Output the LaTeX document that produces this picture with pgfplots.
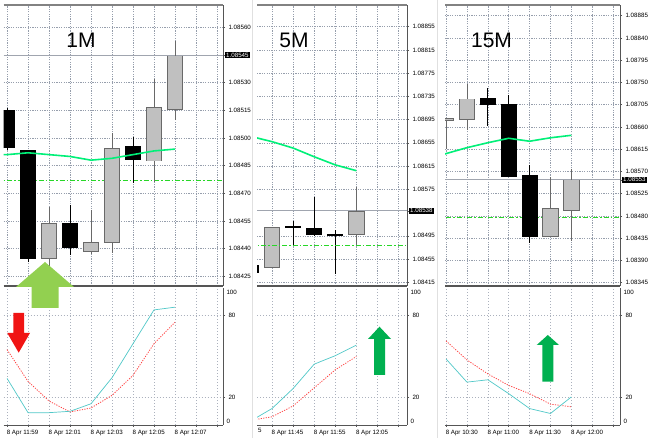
\documentclass[border=0pt]{standalone}
\usepackage{pgfplots}
\pgfplotsset{compat=1.18}
\usepackage{pgfplotstable}
\usepackage{fontspec}
\setmainfont{Liberation Sans}

\definecolor{gridc}{RGB}{150,158,172}
\definecolor{framec}{RGB}{85,85,85}
\definecolor{bullfill}{RGB}{192,192,192}
\definecolor{bulldraw}{RGB}{105,105,105}
\definecolor{maline}{RGB}{0,240,120}
\definecolor{lvl}{RGB}{40,215,40}
\definecolor{stmain}{RGB}{80,200,200}
\definecolor{stsig}{RGB}{255,70,70}
\definecolor{pricel}{RGB}{160,165,175}
\definecolor{topl}{RGB}{130,130,130}
\definecolor{lgreen}{RGB}{146,208,80}
\definecolor{dgreen}{RGB}{0,176,80}
\definecolor{redarrow}{RGB}{240,20,20}

% candles: t = 1 bullish (grey), 0 bearish (black); lw = low, lq = body bottom, uq = body top, uw = high
\pgfplotstableread{
x t lw lq uq uw
0 0 1.08494 1.08496 1.08516 1.08517
1 0 1.08434 1.08435 1.08494 1.08494
2 1 1.08430 1.08435 1.08454 1.08463
3 0 1.08437 1.08441 1.08454 1.08464
4 1 1.08437 1.08440 1.08445 1.08461
5 1 1.08438 1.08444 1.08495 1.08503
6 0 1.08476 1.08489 1.08496 1.08501
7 1 1.08477 1.08488 1.08517 1.08533
8 1 1.08511 1.08516 1.08545 1.08554
}\onem
\pgfplotstableread{
x t lw lq uq uw
-1 0 1.08430 1.08433 1.08446 1.08450
0 1 1.08442 1.08442 1.08510 1.08510
1 0 1.08479 1.08509 1.08512 1.08522
2 0 1.08495 1.08498 1.08508 1.08562
3 0 1.08431 1.08496 1.08499 1.08506
4 1 1.08479 1.08498 1.08538 1.08580
}\fivem
\pgfplotstableread{
x t lw lq uq uw
0 1 1.08615 1.08673 1.08677 1.08678
1 1 1.08655 1.08676 1.08717 1.08749
2 0 1.08662 1.08706 1.08718 1.08740
3 0 1.08561 1.08561 1.08708 1.08726
4 0 1.08425 1.08439 1.08563 1.08583
5 1 1.08437 1.08438 1.08495 1.08559
6 1 1.08430 1.08492 1.08553 1.08576
}\fifteenm

\pgfplotsset{
  mt/.style={scale only axis, anchor=south west, enlargelimits=false,
    axis x line*=bottom, axis y line*=right,
    axis line style={framec,-},
    tick label style={font=\fontsize{6.2}{7}\selectfont, /pgf/number format/assume math mode=true},
    tick style={framec, line width=0.5pt}, major tick length=2pt, tick align=outside,
    grid=major, major grid style={gridc, dash pattern=on 1.2pt off 1.2pt, line width=0.5pt},
    clip=true},
  upper/.style={mt, height=281pt, x axis line style={line width=2pt},
    xmajorticks=false, scaled y ticks=false,
    yticklabel style={/pgf/number format/fixed, /pgf/number format/fixed zerofill, /pgf/number format/precision=5},
    extra y tick style={yticklabel style={fill=black, text=white, inner xsep=1pt, inner ysep=0.8pt},
      major grid style={pricel, solid, line width=0.8pt}}},
  lower/.style={mt, height=137pt, ymin=0, ymax=100, ytick={20,80},
    major grid style={gridc!80, dash pattern=on 1.2pt off 1.8pt, line width=0.5pt},
    extra y ticks={3,97}, extra y tick labels={0,100},
    extra y tick style={grid=none, major tick length=0pt},
    xticklabel style={anchor=north west, inner xsep=0pt, xshift=-0.5pt}},
  ebar/.style 2 args={draw=none, mark=none, forget plot,
    error bars/.cd, y dir=both, y explicit, error mark=none,
    error bar style={draw=#1, solid, line width=#2}},
  ma/.style={maline, line width=1.6pt},
  lvlline/.style={lvl, line width=1pt, dash pattern=on 5pt off 2pt on 1.5pt off 2pt},
  smain/.style={stmain, line width=0.7pt},
  ssig/.style={stsig, line width=0.8pt, dash pattern=on 1.2pt off 1.3pt},
}

% #1 = table, #2 = one pixel in price units
\newcommand{\candles}[2]{%
  % wicks
  \addplot[restrict expr to domain={\thisrow{t}}{-0.5:0.5}, ebar={black}{0.8pt}]
    table[x=x, y expr={(\thisrow{lw}+\thisrow{uw})/2}, y error expr={(\thisrow{uw}-\thisrow{lw})/2}] {#1};
  \addplot[restrict expr to domain={\thisrow{t}}{0.5:1.5}, ebar={bulldraw}{0.8pt}]
    table[x=x, y expr={(\thisrow{lw}+\thisrow{uw})/2}, y error expr={(\thisrow{uw}-\thisrow{lw})/2}] {#1};
  % bodies
  \addplot[restrict expr to domain={\thisrow{t}}{-0.5:0.5}, ebar={black}{16pt}]
    table[x=x, y expr={(\thisrow{lq}+\thisrow{uq})/2}, y error expr={(\thisrow{uq}-\thisrow{lq})/2+0.4*#2}] {#1};
  \addplot[restrict expr to domain={\thisrow{t}}{0.5:1.5}, ebar={bulldraw}{16.4pt}]
    table[x=x, y expr={(\thisrow{lq}+\thisrow{uq})/2}, y error expr={(\thisrow{uq}-\thisrow{lq})/2+0.4*#2}] {#1};
  \addplot[restrict expr to domain={\thisrow{t}}{0.5:1.5}, ebar={bullfill}{14.8pt}]
    table[x=x, y expr={(\thisrow{lq}+\thisrow{uq})/2}, y error expr={(\thisrow{uq}-\thisrow{lq})/2-0.4*#2}] {#1};
}

\begin{document}
\begin{tikzpicture}[x=1pt,y=1pt]
\useasboundingbox (0,0) rectangle (650,438);
\fill[white] (0,0) rectangle (650,438);
% window borders
\draw[black!12, line width=0.8pt] (252.5,0) -- (252.5,438);
\draw[black!12, line width=0.8pt] (437,0) -- (437,438);

% ================= Panel 1 : 1M =================
\begin{axis}[upper, at={(3.5pt,152pt)}, width=219.5pt,
  xmin=-0.17, xmax=10.29, ymin=1.084198, ymax=1.085721,
  xtick={0,...,10},
  ytick={1.08425,1.08440,1.08455,1.08470,1.08485,1.08500,1.08515,1.08530,1.08560},
  extra y ticks={1.08545}]
\addplot[lvlline] coordinates {(-1,1.08477) (11,1.08477)};
\candles{\onem}{0.0000054}
\addplot[ma] coordinates {(-0.2,1.08491) (0,1.08491) (1,1.08492) (2,1.08491) (3,1.08490) (4,1.08488) (5,1.08489) (6,1.08491) (7,1.08493) (8,1.08494)};
\draw[topl, line width=1.6pt] (rel axis cs:0,1) -- (rel axis cs:1,1);
\end{axis}
\begin{axis}[lower, at={(3.5pt,13pt)}, width=219.5pt,
  xmin=-0.17, xmax=10.29, xtick={0,...,10},
  xticklabels={8 Apr 11:59,,8 Apr 12:01,,8 Apr 12:03,,8 Apr 12:05,,8 Apr 12:07,,}]
\addplot[ssig] coordinates {(0,55) (1,31.8) (2,17.5) (3,9.5) (4,12.4) (5,21.6) (6,36.2) (7,59.3) (8,75)};
\addplot[smain] coordinates {(0,34) (1,9) (2,9) (3,10) (4,15.5) (5,34.5) (6,59.3) (7,84) (8,86)};
\end{axis}

% ================= Panel 2 : 5M =================
\begin{axis}[upper, at={(257pt,152pt)}, width=150pt,
  xmin=-0.71, xmax=6.40, ymin=1.084085, ymax=1.088923,
  xtick={0,...,6},
  ytick={1.08415,1.08455,1.08495,1.08575,1.08615,1.08655,1.08695,1.08735,1.08775,1.08815,1.08855},
  extra y ticks={1.08538}]
\candles{\fivem}{0.0000172}
\addplot[lvlline] coordinates {(-1,1.08479) (7,1.08479)};
\addplot[ma] coordinates {(-1,1.08666) (0,1.08657) (1,1.08646) (2,1.08631) (3,1.08617) (4,1.08607)};
\draw[topl, line width=1.6pt] (rel axis cs:0,1) -- (rel axis cs:1,1);
\end{axis}
\begin{axis}[lower, at={(257pt,13pt)}, width=150pt,
  xmin=-0.71, xmax=6.40, xtick={0,...,6},
  xticklabels={8 Apr 11:45,,8 Apr 11:55,,8 Apr 12:05,,}]
\addplot[ssig] coordinates {(-1,3.4) (0,6) (1,13.9) (2,27.1) (3,40.3) (4,50)};
\addplot[smain] coordinates {(-1,3) (0,12) (1,26.6) (2,44.4) (3,50.6) (4,58.3)};
\end{axis}

% ================= Panel 3 : 15M =================
\begin{axis}[upper, at={(445pt,152pt)}, width=175pt,
  xmin=-0.05, xmax=8.33, ymin=1.083382, ymax=1.089066,
  xtick={0,...,8},
  ytick={1.08345,1.08390,1.08435,1.08480,1.08525,1.08570,1.08615,1.08660,1.08705,1.08750,1.08795,1.08840,1.08885},
  extra y ticks={1.08553}]
\addplot[lvlline] coordinates {(-1,1.08476) (9,1.08476)};
\candles{\fifteenm}{0.0000202}
\addplot[ma] coordinates {(-0.05,1.08605) (0,1.08606) (1,1.08618) (2,1.08628) (3,1.08637) (4,1.08631) (5,1.08638) (6,1.08643)};
\draw[topl, line width=1.6pt] (rel axis cs:0,1) -- (rel axis cs:1,1);
\end{axis}
\begin{axis}[lower, at={(445pt,13pt)}, width=175pt,
  xmin=-0.05, xmax=8.33, xtick={0,...,8},
  xticklabels={8 Apr 10:30,,8 Apr 11:00,,8 Apr 11:30,,8 Apr 12:00,,}]
\addplot[ssig] coordinates {(0,61.4) (1,47.5) (2,37.3) (3,28.9) (4,22.9) (5,15.2) (6,13.3)};
\addplot[smain] coordinates {(0,48.2) (1,31.3) (2,33) (3,22.9) (4,12) (5,8.4) (6,20.5)};
\end{axis}

% clipped end of the previous date label in panel 2
\node[anchor=north west, inner sep=0pt, font=\fontsize{6.2}{7}\selectfont] at (258pt,9.5pt) {5};

% titles
\node[font=\fontsize{21}{24}\selectfont] at (81pt,398pt) {1M};
\node[font=\fontsize{21}{24}\selectfont] at (294pt,398pt) {5M};
\node[font=\fontsize{21}{24}\selectfont] at (491.5pt,398pt) {15M};

% annotation arrows
\fill[lgreen] (31.5,130) -- (58.5,130) -- (58.5,151) -- (74,151) -- (45,176) -- (16,151) -- (31.5,151) -- cycle;
\fill[redarrow] (13.3,125) -- (24,125) -- (24,105) -- (30,105) -- (18.7,85.3) -- (7.3,105) -- (13.3,105) -- cycle;
\fill[dgreen] (374,63) -- (385,63) -- (385,99) -- (391,99) -- (379.5,111.3) -- (368,99) -- (374,99) -- cycle;
\fill[dgreen] (542.3,56.3) -- (553.3,56.3) -- (553.3,93) -- (559,93) -- (547.8,103) -- (536.7,93) -- (542.3,93) -- cycle;
\end{tikzpicture}
\end{document}
